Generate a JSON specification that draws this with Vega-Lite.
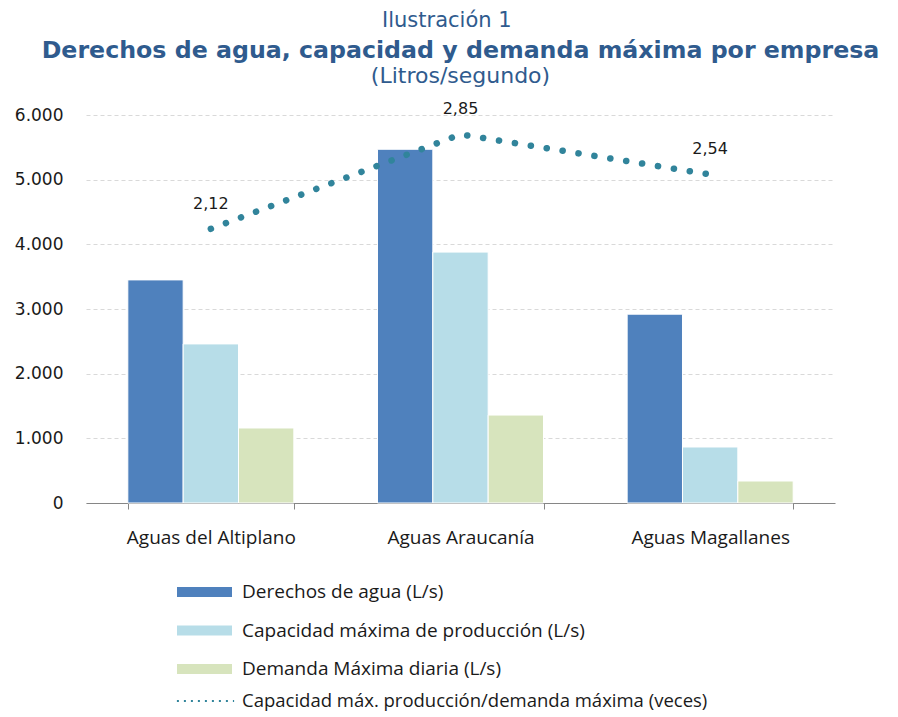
{
  "$schema": "https://vega.github.io/schema/vega-lite/v6.json",
  "background": "white",
  "padding": {"left": 14, "top": 9, "right": 0, "bottom": 0},
  "config": {
    "locale": {"number": {"decimal": ",", "thousands": ".", "grouping": [3], "currency": ["", ""]}},
    "view": {"stroke": null},
    "title": {"color": "#2F5B8E", "font": "DejaVu Sans", "anchor": "middle"}
  },
  "title": {"text": "Ilustración 1", "fontSize": 21, "fontWeight": "normal", "offset": 8},
  "datasets": {
    "bars": [
      {"empresa": "Aguas del Altiplano", "serie": "Derechos de agua (L/s)", "valor": 3450},
      {"empresa": "Aguas del Altiplano", "serie": "Capacidad máxima de producción (L/s)", "valor": 2460},
      {"empresa": "Aguas del Altiplano", "serie": "Demanda Máxima diaria (L/s)", "valor": 1160},
      {"empresa": "Aguas Araucanía", "serie": "Derechos de agua (L/s)", "valor": 5470},
      {"empresa": "Aguas Araucanía", "serie": "Capacidad máxima de producción (L/s)", "valor": 3880},
      {"empresa": "Aguas Araucanía", "serie": "Demanda Máxima diaria (L/s)", "valor": 1360},
      {"empresa": "Aguas Magallanes", "serie": "Derechos de agua (L/s)", "valor": 2920},
      {"empresa": "Aguas Magallanes", "serie": "Capacidad máxima de producción (L/s)", "valor": 866},
      {"empresa": "Aguas Magallanes", "serie": "Demanda Máxima diaria (L/s)", "valor": 340}
    ],
    "ratio": [
      {"empresa": "Aguas del Altiplano", "ratio": 2.12},
      {"empresa": "Aguas Araucanía", "ratio": 2.85},
      {"empresa": "Aguas Magallanes", "ratio": 2.54}
    ]
  },
  "vconcat": [
    {
      "title": {"text": "Derechos de agua, capacidad y demanda máxima por empresa", "fontSize": 23.7, "fontWeight": "bold", "subtitle": "(Litros/segundo)", "subtitleFontSize": 22, "subtitleColor": "#2F5B8E", "subtitleFont": "DejaVu Sans", "subtitlePadding": 4, "offset": 14},
      "width": 749,
      "height": 388,
      "layer": [
        {
          "data": {"name": "bars"},
          "mark": {"type": "bar", "stroke": "white", "strokeWidth": 1},
          "encoding": {
            "x": {"field": "empresa", "type": "nominal", "sort": null,
              "scale": {"paddingInner": 0.335, "paddingOuter": 0.1675},
              "axis": {"title": null, "labelAngle": 0, "labelFont": "Open Sans", "labelFontSize": 19, "labelColor": "#1A1A1A", "labelPadding": 19, "domainColor": "#868686", "tickColor": "#868686", "tickSize": 6, "tickBand": "extent", "grid": false, "labelLimit": 0}},
            "xOffset": {"field": "serie", "type": "nominal", "sort": null, "scale": {"paddingInner": 0, "domain": ["Derechos de agua (L/s)", "Capacidad máxima de producción (L/s)", "Demanda Máxima diaria (L/s)"]}},
            "y": {"field": "valor", "type": "quantitative",
              "scale": {"domain": [0, 6000]},
              "axis": {"title": null, "values": [0, 1000, 2000, 3000, 4000, 5000, 6000], "format": ",.0f", "labelFont": "DejaVu Sans", "labelFontSize": 17, "labelColor": "#1A1A1A", "labelPadding": 23, "domain": false, "ticks": false, "grid": true, "gridColor": "#D9D9D9", "gridDash": [4, 3], "gridWidth": 1}},
            "color": {"field": "serie", "type": "nominal",
              "scale": {"domain": ["Derechos de agua (L/s)", "Capacidad máxima de producción (L/s)", "Demanda Máxima diaria (L/s)"], "range": ["#4F81BD", "#B7DDE8", "#D7E4BD"]},
              "legend": {
                "title": null, "orient": "none", "legendX": 107.5, "legendY": 466, "direction": "vertical",
                "labelFont": "Open Sans", "labelFontSize": 19, "labelColor": "#1A1A1A", "labelOffset": 26.5, "rowPadding": 17.5, "labelLimit": 0,
                "symbolType": "M-2.5,-0.45H2.5V0.45H-2.5Z", "symbolSize": 484, "symbolStrokeWidth": 0
              }}
          }
        },
        {
          "data": {"name": "ratio"},
          "layer": [
            {
              "mark": {"type": "line", "interpolate": "linear", "strokeWidth": 6.5, "strokeCap": "round", "strokeDash": [0.1, 16]},
              "encoding": {
                "x": {"field": "empresa", "type": "nominal", "sort": null},
                "y": {"field": "ratio", "type": "quantitative", "scale": {"domain": [0, 3]},
                  "axis": {"orient": "right", "title": null, "values": [0, 0.5, 1, 1.5, 2, 2.5, 3], "format": ".2f", "labelFont": "DejaVu Sans", "labelFontSize": 17, "labelColor": "#1A1A1A", "labelPadding": 21, "domain": false, "ticks": false, "grid": false}},
                "color": {"datum": "Capacidad máx. producción/demanda máxima (veces)",
                  "scale": {"domain": ["Capacidad máx. producción/demanda máxima (veces)"], "range": ["#31849B"]},
                  "legend": {
                    "title": null, "orient": "none", "legendX": 107.5, "legendY": 574, "direction": "vertical",
                    "labelFont": "Open Sans", "labelFontSize": 18.5, "labelColor": "#1A1A1A", "labelOffset": 24.5, "labelLimit": 0,
                    "symbolType": "M-2.6,0H2.6", "symbolSize": 484, "symbolStrokeWidth": 2, "symbolDash": [2, 5]
                  }}
              }
            },
            {
              "mark": {"type": "text", "dy": -25, "font": "DejaVu Sans", "fontSize": 16, "color": "#1A1A1A"},
              "encoding": {
                "x": {"field": "empresa", "type": "nominal", "sort": null},
                "y": {"field": "ratio", "type": "quantitative", "scale": {"domain": [0, 3]}, "axis": null},
                "text": {"field": "ratio", "type": "quantitative", "format": ".2f"}
              }
            }
          ]
        }
      ],
      "resolve": {"scale": {"y": "independent", "color": "independent"}}
    }
  ]
}
